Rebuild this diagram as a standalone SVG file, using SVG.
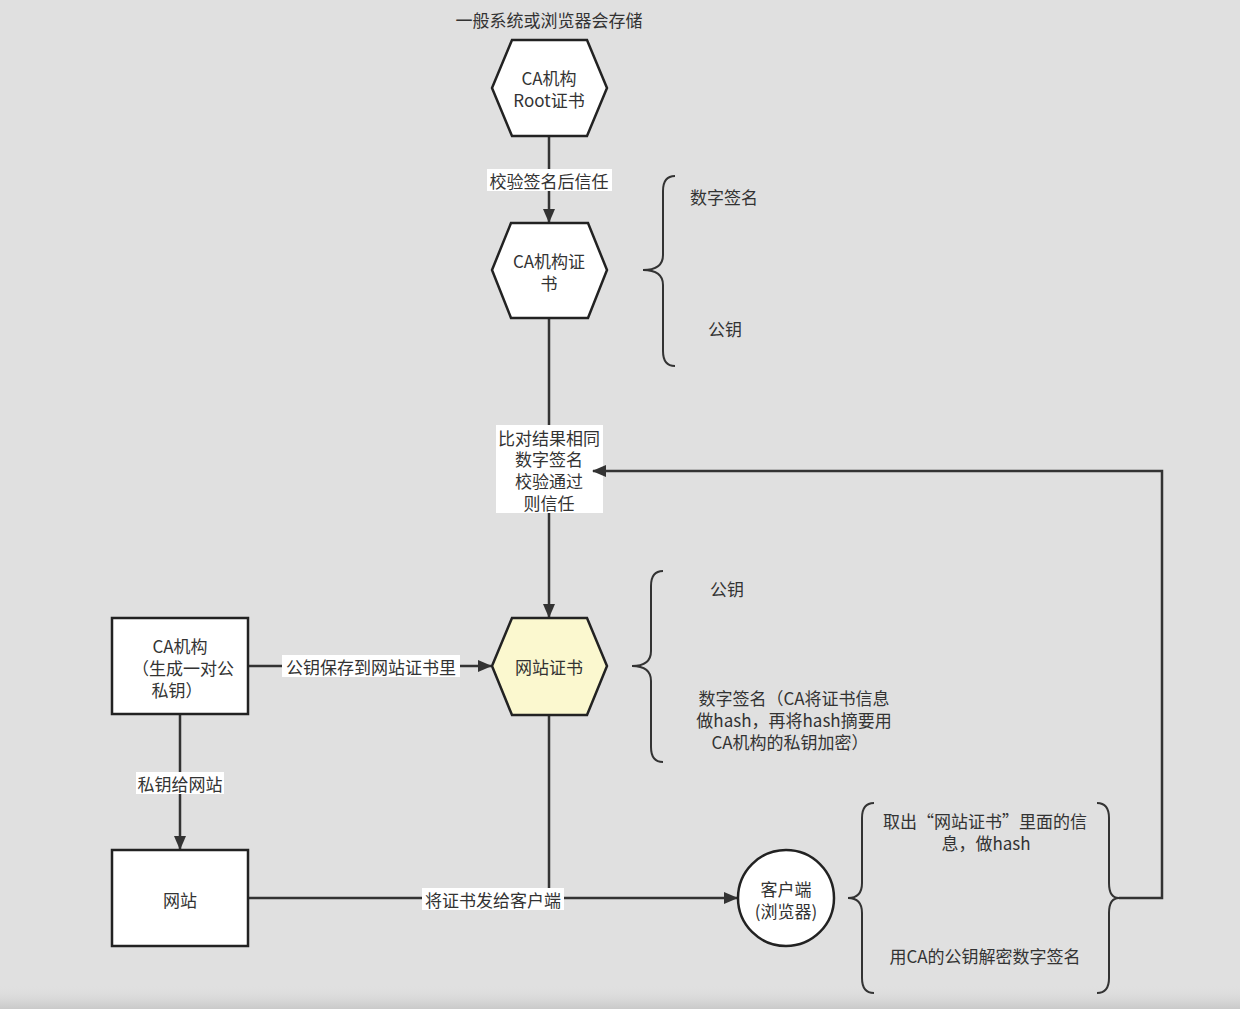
<svg xmlns="http://www.w3.org/2000/svg" width="1240" height="1009" viewBox="0 0 1240 1009">
<defs>
<style>
text{font-family:"Noto Sans CJK SC","Noto Sans",sans-serif;font-size:17px;fill:#333;text-anchor:middle;dominant-baseline:central}
.shape{stroke:#222;stroke-width:2.5;fill:#fff}
.conn{stroke:#333;stroke-width:2.5;fill:none}
.brace{stroke:#333;stroke-width:2;fill:none}
.lbl{fill:#fff}
</style>
<marker id="arr" viewBox="0 0 14 12" refX="13" refY="6" markerWidth="14" markerHeight="12" markerUnits="userSpaceOnUse" orient="auto">
<path d="M0,0 L14,6 L0,12 Z" fill="#333"/>
</marker>
<linearGradient id="bot" x1="0" y1="0" x2="0" y2="1">
<stop offset="0" stop-color="#dfdfdf" stop-opacity="0"/>
<stop offset="1" stop-color="#c9c9c9"/>
</linearGradient>
</defs>
<rect width="1240" height="1009" fill="#e0e0e0"/>
<rect y="985" width="1240" height="24" fill="url(#bot)"/>

<g id="connectors">
<line class="conn" x1="549" y1="136" x2="549" y2="222" marker-end="url(#arr)"/>
<line class="conn" x1="549" y1="318" x2="549" y2="617" marker-end="url(#arr)"/>
<line class="conn" x1="248" y1="666" x2="491" y2="666" marker-end="url(#arr)"/>
<line class="conn" x1="180" y1="714" x2="180" y2="849" marker-end="url(#arr)"/>
<line class="conn" x1="248" y1="898" x2="737" y2="898" marker-end="url(#arr)"/>
<line class="conn" x1="549" y1="715" x2="549" y2="898"/>
<rect class="lbl" x="487" y="169" width="125" height="22"/>
<text x="549" y="180">校验签名后信任</text>
<rect class="lbl" x="496" y="425" width="107" height="88"/>
<text><tspan x="549" y="437">比对结果相同</tspan><tspan x="549" y="458">数字签名</tspan><tspan x="549" y="480">校验通过</tspan><tspan x="549" y="502">则信任</tspan></text>
<polyline class="conn" points="1119,898 1162,898 1162,471 593,471" marker-end="url(#arr)"/>
<rect class="lbl" x="282" y="655" width="178" height="22"/>
<text x="371" y="666">公钥保存到网站证书里</text>
<rect class="lbl" x="136" y="772" width="88" height="22"/>
<text x="180" y="783">私钥给网站</text>
<rect class="lbl" x="422" y="888" width="142" height="22"/>
<text x="493" y="899">将证书发给客户端</text>
</g>

<g id="title"><text x="549" y="19">一般系统或浏览器会存储</text></g>

<g id="root-cert">
<polygon class="shape" points="512,40 587,40 607,88 587,136 512,136 492,88"/>
<text><tspan x="549" y="77">CA机构</tspan><tspan x="549" y="99">Root证书</tspan></text>
</g>

<g id="ca-cert">
<polygon class="shape" points="511,223 588,223 607,270 588,318 511,318 492,270"/>
<text><tspan x="549" y="260">CA机构证</tspan><tspan x="549" y="282">书</tspan></text>
</g>

<g id="ca-cert-brace">
<path class="brace" d="M675,176 Q663,176 663,191 L663,255 Q663,270 643,270 Q663,270 663,285 L663,351 Q663,366 675,366"/>
<text x="724" y="196">数字签名</text>
<text x="725" y="328">公钥</text>
</g>

<g id="site-cert">
<polygon class="shape" points="512,618 587,618 607,666 587,715 512,715 492,666" style="fill:#fbf8cf"/>
<text x="549" y="666">网站证书</text>
</g>

<g id="site-cert-brace">
<path class="brace" d="M663,571 Q651,571 651,586 L651,651 Q651,666 632,666 Q651,666 651,681 L651,747 Q651,762 663,762"/>
<text x="727" y="588">公钥</text>
<text><tspan x="794" y="697">数字签名（CA将证书信息</tspan><tspan x="794" y="719">做hash，再将hash摘要用</tspan><tspan x="790" y="741">CA机构的私钥加密）</tspan></text>
</g>

<g id="ca">
<rect class="shape" x="112" y="618" width="136" height="96"/>
<text><tspan x="180" y="645">CA机构</tspan><tspan x="183" y="667">（生成一对公</tspan><tspan x="177" y="689">私钥）</tspan></text>
</g>

<g id="website">
<rect class="shape" x="112" y="850" width="136" height="96"/>
<text x="180" y="899">网站</text>
</g>

<g id="client">
<circle class="shape" cx="786" cy="898" r="48"/>
<text><tspan x="786" y="888">客户端</tspan><tspan x="786" y="910">(浏览器)</tspan></text>
</g>

<g id="client-brace">
<path class="brace" d="M874,803 Q862,803 862,818 L862,883 Q862,898 848,898 Q862,898 862,913 L862,978 Q862,993 874,993"/>
<path class="brace" d="M1097,803 Q1109,803 1109,818 L1109,883 Q1109,898 1119,898 Q1109,898 1109,913 L1109,978 Q1109,993 1097,993"/>
<text><tspan x="985" y="820">取出“网站证书”里面的信</tspan><tspan x="986" y="842">息，做hash</tspan></text>
<text x="985" y="955">用CA的公钥解密数字签名</text>
</g>
</svg>
